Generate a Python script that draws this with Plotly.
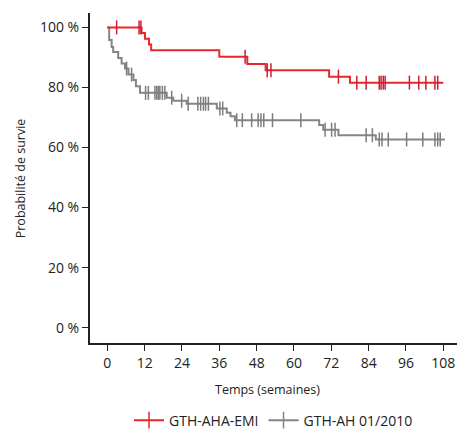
import plotly.graph_objects as go

# --- data (weeks, survival %) ---
red_name = "GTH-AHA-EMI"
red_t = [0, 11.0, 12.1, 13.4, 14.1, 36.0, 45.0, 50.9, 71.3, 78.0, 108.0]
red_s = [100, 98.1, 96.2, 94.3, 92.4, 90.2, 87.8, 85.7, 83.6, 81.6, 81.6]
red_c = [3.0, 10.2, 10.8, 44.3, 51.4, 52.6, 74.3, 80.2, 83.2, 87.4, 88.0, 88.7,
         89.3, 97.1, 100.1, 102.4, 105.3, 106.2]

gray_name = "GTH-AH 01/2010"
gray_t = [0, 0.6, 1.4, 1.9, 3.5, 4.6, 5.7, 6.8, 8.4, 9.2, 10.5, 19.1, 21.2, 25.5,
          35.2, 38.4, 39.6, 41.0, 68.1, 69.4, 74.3, 86.3, 108.5]
gray_s = [100, 95.8, 93.5, 91.8, 89.8, 88.0, 86.3, 84.3, 82.5, 80.4, 78.2, 76.6,
          75.6, 74.6, 73.0, 71.6, 70.4, 69.1, 67.5, 65.9, 64.1, 62.7, 62.7]
gray_c = [6.2, 7.8, 12.3, 13.2, 15.3, 15.9, 16.4, 16.9, 17.7, 18.5, 20.7, 23.9,
          26.0, 29.1, 30.0, 30.9, 31.6, 32.5, 36.2, 37.1, 41.6, 43.4, 46.4, 48.5,
          49.4, 50.3, 53.1, 62.2, 70.0, 72.1, 73.2, 83.2, 85.2, 87.4, 88.3, 90.3,
          96.2, 101.4, 105.3, 106.2, 107.0]

x_ticks = [0, 12, 24, 36, 48, 60, 72, 84, 96, 108]
y_ticks = [0, 20, 40, 60, 80, 100]
y_tick_text = [f"{v} %" for v in y_ticks]

RED = "#e6282e"
RED_MARK = "#d01c33"
GRAY = "#858585"
GRAY_MARK = "#7d7d7d"
FONT = "Open Sans"


def surv_at(ts, ss, t):
    v = ss[0]
    for ti, si in zip(ts, ss):
        if ti <= t:
            v = si
    return v


fig = go.Figure()


def add_series(ts, ss, cs, color, mcolor):
    fig.add_trace(go.Scatter(x=ts, y=ss, mode="lines", line=dict(color=color, width=2, shape="hv"),
                             showlegend=False, hoverinfo="skip"))
    fig.add_trace(go.Scatter(x=cs, y=[surv_at(ts, ss, c) for c in cs], mode="markers",
                             marker=dict(symbol="line-ns", size=10, color=mcolor,
                                         line=dict(color=mcolor, width=1.5)),
                             showlegend=False, hoverinfo="skip"))


add_series(gray_t, gray_s, gray_c, GRAY, GRAY_MARK)
add_series(red_t, red_s, red_c, RED, RED_MARK)

for color, name in [(RED, red_name), (GRAY, gray_name)]:
    fig.add_trace(go.Scatter(x=[None], y=[None], mode="lines+markers", name=name,
                             line=dict(color=color, width=2),
                             marker=dict(symbol="line-ns", size=12, color=color,
                                         line=dict(color=color, width=1.5))))

fig.update_layout(
    width=458, height=430,
    margin=dict(l=90, r=1, t=13, b=87, autoexpand=False),
    paper_bgcolor="white", plot_bgcolor="white",
    font=dict(family=FONT, size=14, color="#222"),
    showlegend=True,
    legend=dict(orientation="h", x=0.5, xanchor="center", y=-0.235, yanchor="middle",
                font=dict(size=14, color="#222"), itemwidth=30, tracegroupgap=0,
                bgcolor="rgba(0,0,0,0)"),
    xaxis=dict(range=[-5.56, 112.4], tickvals=x_ticks, ticks="outside", ticklen=6,
               tickwidth=1.2, tickcolor="#222", showline=True, linecolor="#222", linewidth=2,
               showgrid=False, zeroline=False, tickfont=dict(size=14), automargin=False),
    yaxis=dict(range=[-5.1, 104.8], tickvals=y_ticks, ticktext=y_tick_text, ticks="outside",
               ticklen=6, tickwidth=1.2, tickcolor="#222", showline=True, linecolor="#222",
               linewidth=2, showgrid=False, zeroline=False, tickfont=dict(size=14),
               automargin=False),
    annotations=[
        dict(text="Temps (semaines)", xref="paper", yref="paper", x=0.485, y=-0.14,
             xanchor="center", yanchor="middle", showarrow=False, font=dict(size=12.5)),
        dict(text="Probabilité de survie", xref="paper", yref="paper", x=-0.19, y=0.5,
             xanchor="center", yanchor="middle", textangle=-90, showarrow=False,
             font=dict(size=12.5)),
    ],
)

fig.write_html("out.html", config={"displayModeBar": False},
               post_script="document.body.style.margin='0';document.body.style.overflow='hidden';")
